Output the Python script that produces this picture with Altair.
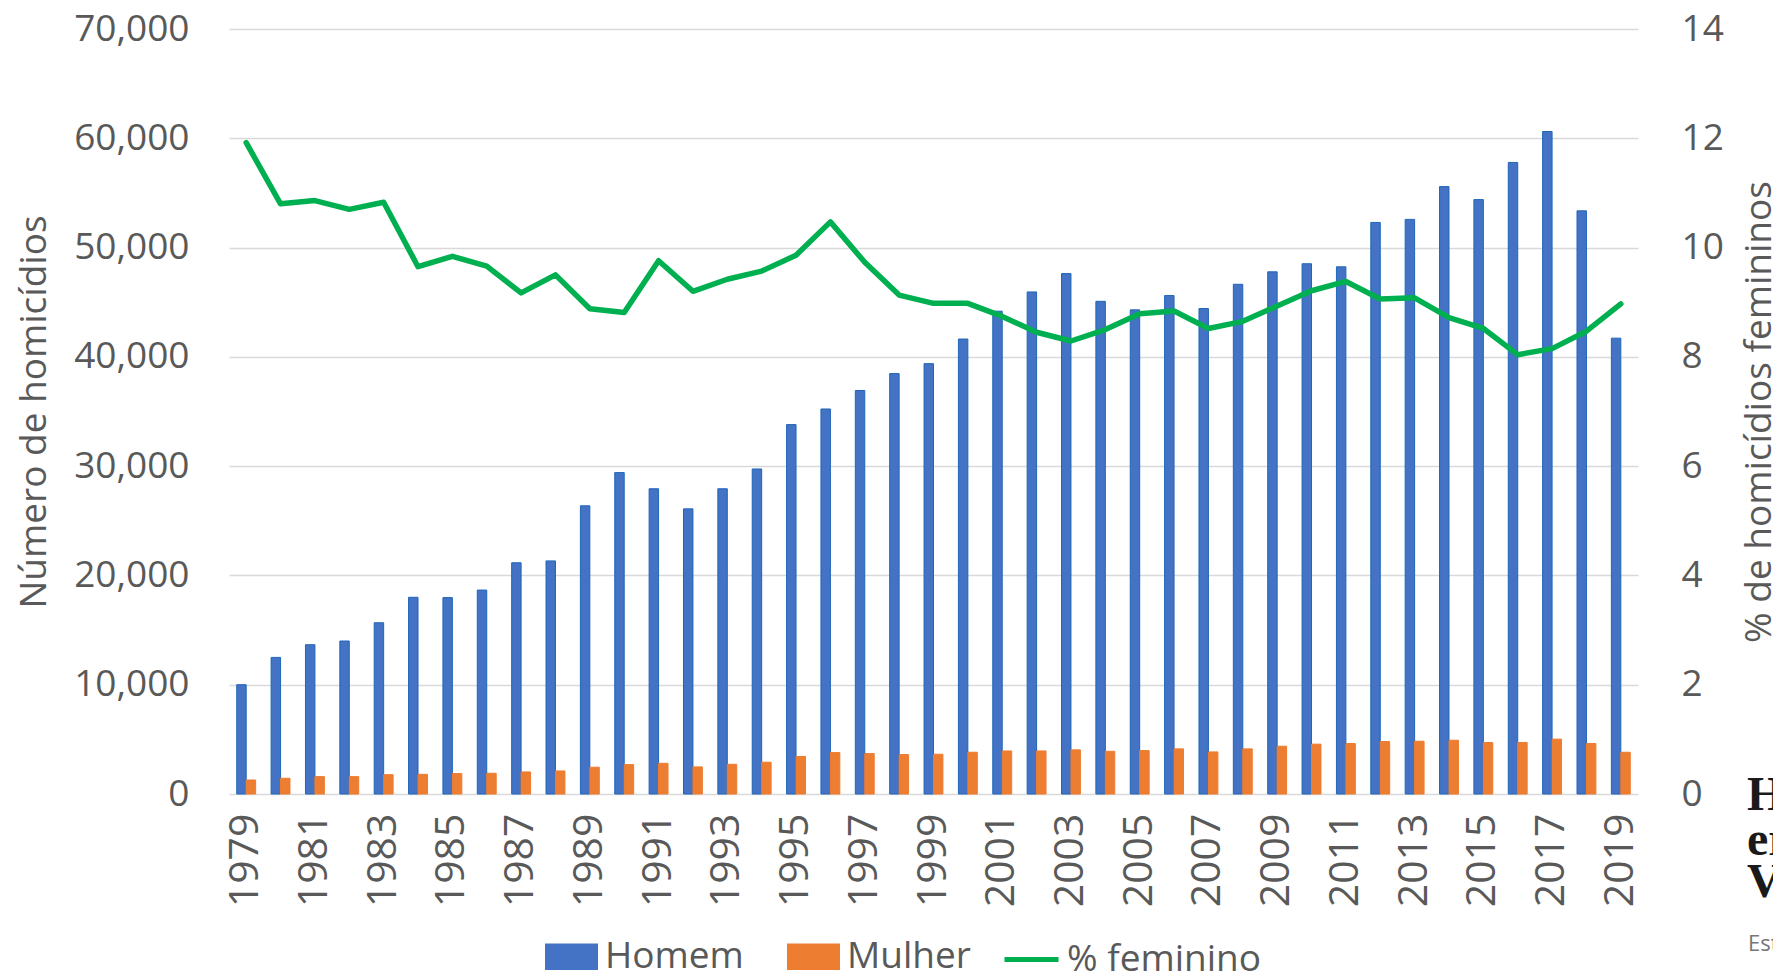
import altair as alt
import pandas as pd

anos = list(range(1979, 2020))
homem = [10000, 12500, 13660, 14000, 15670, 18000, 17970, 18660, 21160, 21330, 26370, 29410,
         27930, 26090, 27930, 29740, 33800, 35230, 36920, 38470, 39380, 41630, 44180, 45940, 47620,
         45080, 44300, 45610, 44420, 46640, 47780, 48520, 48240, 52300, 52580, 55580, 54390,
         57790, 60620, 53360, 41710]
mulher = [1280, 1440, 1590, 1590, 1770, 1800, 1870, 1900, 2020, 2110, 2450, 2690, 2810, 2480,
          2720, 2910, 3430, 3790, 3700, 3610, 3640, 3820, 3940, 3940, 4040, 3910, 3980,
          4130, 3850, 4130, 4370, 4560, 4620, 4800, 4830, 4920, 4710, 4710, 5020, 4620, 3820]
pct_feminino = [11.92, 10.80, 10.86, 10.70, 10.83, 9.65, 9.84, 9.66, 9.17, 9.50, 8.88, 8.81,
                9.76, 9.20, 9.42, 9.57, 9.86, 10.47, 9.73, 9.13, 8.98, 8.98, 8.74, 8.45, 8.29,
                8.50, 8.79, 8.84, 8.52, 8.65, 8.93, 9.21, 9.38, 9.06, 9.08, 8.72, 8.52,
                8.04, 8.15, 8.47, 8.97]

series = ["Homem", "Mulher"]
serie_linha = "% feminino"
cores_barras = ["#4472C4", "#ED7D31"]
cor_linha = "#00B050"
ticks_esq = [0, 10000, 20000, 30000, 40000, 50000, 60000, 70000]
ticks_dir = [0, 2, 4, 6, 8, 10, 12, 14]
anos_rotulos = anos[::2]
fragmentos = ["H", "er", "Vi", "Est"]

bars_df = pd.DataFrame({
    "ano": anos * 2,
    "sexo": [series[0]] * len(anos) + [series[1]] * len(anos),
    "valor": homem + mulher,
})
line_df = pd.DataFrame({"ano": anos, "pct": pct_feminino, "serie": [serie_linha] * len(anos)})

FONT = "Open Sans"
GRAY = "#595959"

bars = alt.Chart(bars_df).mark_bar(strokeWidth=1).encode(
    x=alt.X("ano:O", title=None,
            scale=alt.Scale(paddingInner=0.45, paddingOuter=0.225),
            axis=alt.Axis(values=anos_rotulos, labelAngle=270, labelPadding=19,
                          labelFontSize=41,
                          ticks=False, domain=False, grid=False)),
    xOffset=alt.XOffset("sexo:N", scale=alt.Scale(domain=series)),
    y=alt.Y("valor:Q", scale=alt.Scale(domain=[0, 70000], nice=False),
            axis=alt.Axis(orient="left", values=ticks_esq, format=",.0f",
                          title="Número de homicídios", labelPadding=40, titlePadding=20,
                          ticks=False, domain=False, grid=True)),
    color=alt.Color("sexo:N", scale=alt.Scale(domain=series, range=cores_barras),
                    legend=alt.Legend(title=None, orient="none", legendX=316, legendY=901,
                                      direction="horizontal",
                                      symbolType="M-1,-0.5H1V0.5H-1Z", symbolSize=2809,
                                      symbolStrokeWidth=0, labelLimit=400,
                                      labelOffset=7, columnPadding=43)),
    stroke=alt.condition(alt.datum.sexo == "Homem", alt.value("#1F66B8"), alt.value("#ED7D31")),
)

line = alt.Chart(line_df).mark_line(strokeWidth=5.5, strokeJoin="round", strokeCap="round").encode(
    x=alt.X("ano:O"),
    y=alt.Y("pct:Q", scale=alt.Scale(domain=[0, 14], nice=False),
            axis=alt.Axis(orient="right", values=ticks_dir,
                          title="% de homicídios femininos", titleAngle=270, titleBaseline="top",
                          labelPadding=43, titlePadding=18,
                          ticks=False, domain=False, grid=False)),
    stroke=alt.Stroke("serie:N", scale=alt.Scale(domain=[serie_linha], range=[cor_linha]),
                      legend=alt.Legend(title=None, orient="none", legendX=773, legendY=901,
                                        symbolType="stroke", symbolSize=2916, labelLimit=400,
                                        symbolStrokeWidth=5, labelOffset=6)),
)


def frag(txt, x, y, size, font, weight, color):
    return alt.Chart(alt.Data(values=[{"t": txt}])).mark_text(
        align="left", baseline="alphabetic", font=font, fontSize=size,
        fontWeight=weight, color=color
    ).encode(x=alt.value(x), y=alt.value(y), text=alt.Text("t:N"))


frags = [
    frag(fragmentos[0], 1518, 781, 48, "Liberation Serif", "bold", "#1a1a1a"),
    frag(fragmentos[1], 1518, 826, 48, "Liberation Serif", "bold", "#1a1a1a"),
    frag(fragmentos[2], 1518, 868, 48, "Liberation Serif", "bold", "#1a1a1a"),
    frag(fragmentos[3], 1519, 922, 22, FONT, "normal", "#767676"),
]

chart = alt.layer(bars, line, *frags).resolve_scale(
    y="independent"
).properties(
    width=1409, height=765,
    padding={"left": 221, "top": 21, "right": 135, "bottom": 179},
    autosize=alt.AutoSizeParams(type="none"),
).configure_view(
    stroke=None
).configure_axis(
    labelFont=FONT, titleFont=FONT, labelColor=GRAY, titleColor=GRAY,
    labelFontSize=37, titleFontSize=37, titleFontWeight="normal",
    gridColor="#D9D9D9", gridWidth=1.5,
).configure_legend(
    labelFont=FONT, labelFontSize=37, labelColor=GRAY, padding=0,
)

chart.save("out.html", embed_options={"renderer": "svg", "actions": False})
